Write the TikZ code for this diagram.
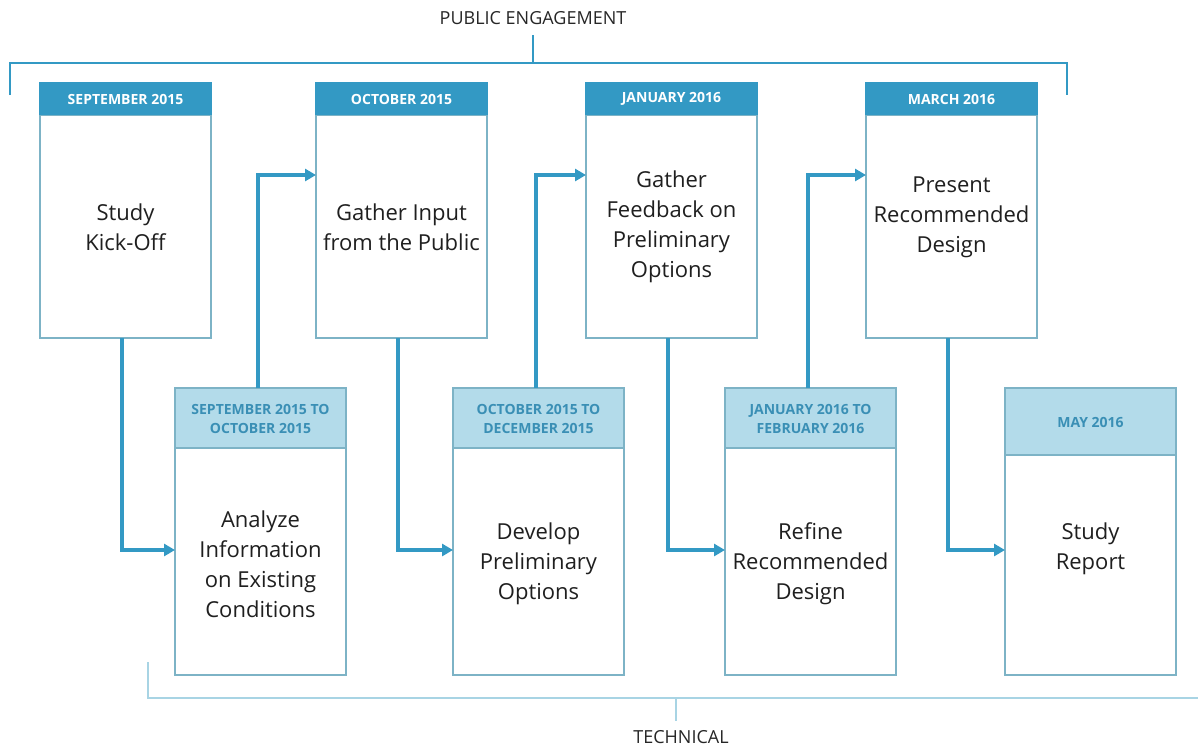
\documentclass[tikz,border=0pt]{standalone}
\usepackage{fontspec}
\setmainfont{Open Sans}
\usetikzlibrary{arrows.meta}
\definecolor{mainteal}{HTML}{3399C4}
\definecolor{lightteal}{HTML}{B3DBEA}
\definecolor{boxline}{HTML}{7DB3C6}
\definecolor{hdrtext}{HTML}{3A8FB5}
\definecolor{techline}{HTML}{A8D4E4}
\begin{document}
\begin{tikzpicture}[x=1pt,y=-1pt,
  bodybox/.style={draw=boxline,line width=1.2pt,fill=white},
  darkhdr/.style={draw=mainteal,fill=mainteal,line width=1.2pt},
  lighthdr/.style={draw=boxline,fill=lightteal,line width=1.2pt},
  darklbl/.style={text=white,font=\fontsize{14}{16}\selectfont\bfseries,align=center},
  lightlbl/.style={text=hdrtext,font=\fontsize{14}{19}\selectfont\bfseries,align=center},
  bodylbl/.style={text=black!88,font=\fontsize{22}{30}\selectfont,align=center},
  flow/.style={draw=mainteal,line width=3.2pt,-{Triangle[length=11pt,width=12pt]}},
  captext/.style={font=\fontsize{18}{20}\selectfont,text=black!85}]
\useasboundingbox (0,0) rectangle (1198,747);
% top bracket
\draw[mainteal,line width=2.6pt] (10,95) -- (10,63) -- (1067,63) -- (1067,95);
\draw[mainteal,line width=2.6pt] (533,63) -- (533,35);
\node[captext] (pe) at (533,18) {PUBLIC ENGAGEMENT};
% bottom bracket
\draw[techline,line width=2pt] (148,662) -- (148,698) -- (1198,698);
\draw[techline,line width=2pt] (676,698) -- (676,721);
\node[captext] (tech) at (681,737) {TECHNICAL};
% top boxes
\foreach \n/\x/\d in {b1/40/SEPTEMBER 2015,b2/316/OCTOBER 2015,b3/586/JANUARY 2016,b4/866/MARCH 2016}{
  \draw[bodybox] (\x,115) rectangle ++(171,223);
  \draw[darkhdr] (\x,83) rectangle ++(171,31);
  \node[darklbl] at (\x+85.5,99) {\d};
  \coordinate (\n-bot) at (\x+82,338);
  \coordinate (\n-left) at (\x,175);
}
% bottom boxes
\foreach \n/\x in {b5/175,b6/453,b7/725}{
  \draw[bodybox] (\x,448) rectangle ++(171,227);
  \draw[lighthdr] (\x,388) rectangle ++(171,60);
  \coordinate (\n-top) at (\x+83,388);
  \coordinate (\n-left) at (\x,550);
}
\draw[bodybox] (1005,455) rectangle ++(171,220);
\draw[lighthdr] (1005,388) rectangle ++(171,67);
\coordinate (b8-left) at (1005,550);
\node[lightlbl] at (260.5,419) {SEPTEMBER 2015 TO\\OCTOBER 2015};
\node[lightlbl] at (538.5,419) {OCTOBER 2015 TO\\DECEMBER 2015};
\node[lightlbl] at (810.5,419) {JANUARY 2016 TO\\FEBRUARY 2016};
\node[lightlbl] at (1090.5,422) {MAY 2016};
% body texts
\node[bodylbl] (t1) at (125.5,227) {Study\\Kick-Off};
\node[bodylbl] (t2) at (401.5,227) {Gather Input\\from the Public};
\node[bodylbl] (t3) at (671.5,227) {Gather\\Feedback on\\Preliminary\\Options};
\node[bodylbl] (t4) at (951.5,217) {Present\\Recommended\\Design};
\node[bodylbl] (t5) at (260.5,564) {Analyze\\Information\\on Existing\\Conditions};
\node[bodylbl] (t6) at (538.5,564) {Develop\\Preliminary\\Options};
\node[bodylbl] (t7) at (810.5,564) {Refine\\Recommended\\Design};
\node[bodylbl] (t8) at (1090.5,549) {Study\\Report};
% flow arrows
\draw[flow] (b1-bot) |- (b5-left);
\draw[flow] (b5-top) |- (b2-left);
\draw[flow] (b2-bot) |- (b6-left);
\draw[flow] (b6-top) |- (b3-left);
\draw[flow] (b3-bot) |- (b7-left);
\draw[flow] (b7-top) |- (b4-left);
\draw[flow] (b4-bot) |- (b8-left);
\end{tikzpicture}
\end{document}
